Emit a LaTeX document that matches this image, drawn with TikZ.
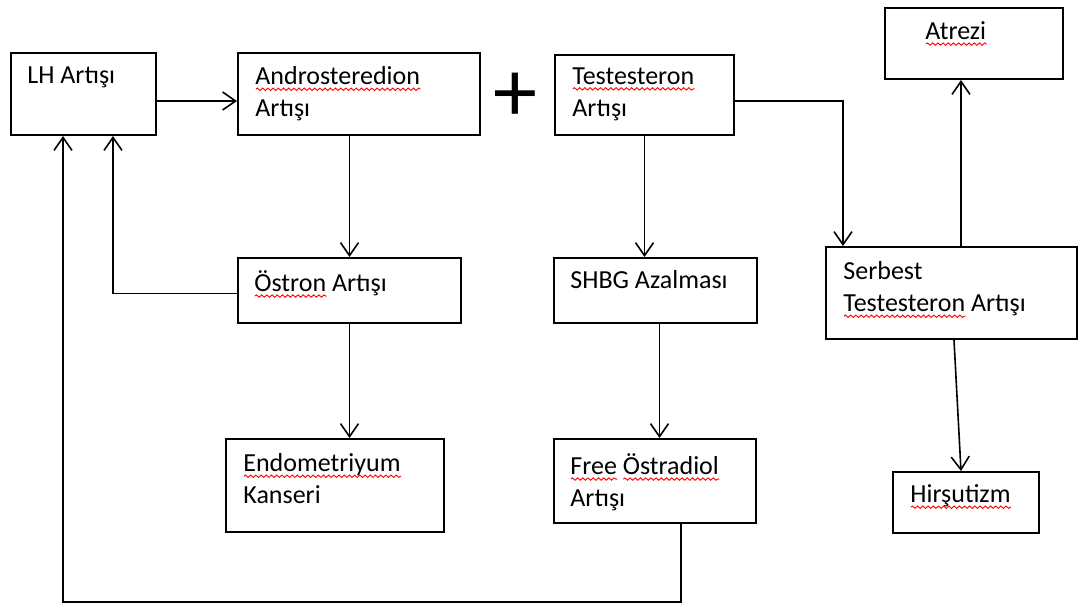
\documentclass[tikz,border=0pt]{standalone}
\usepackage{fontspec}
\setmainfont{Carlito}
\usetikzlibrary{arrows.meta,calc,decorations.pathmorphing}
\newlength\spellwd
\newcommand\spellmark[1]{\settowidth\spellwd{#1}\rlap{\tikz[baseline=0pt,x=1pt,y=1pt]\draw[red,line width=0.45pt,decorate,decoration={snake,amplitude=0.6pt,segment length=2.6pt}] (0,-2.4) -- (\spellwd,-2.4);}#1}

\begin{document}
\begin{tikzpicture}[x=0.5pt, y=-0.5pt,
    blk/.style={draw, line width=1pt, inner sep=0pt, anchor=north west},
    lbl/.style={anchor=north west, inner sep=0pt, align=left, font=\fontsize{13}{16}\selectfont},
    arr/.style={-{Straight Barb[length=6.5pt,width=9pt]}, line width=0.8pt}]
  \useasboundingbox (0,0) rectangle (1078,606);
  % boxes
  \foreach \n/\x/\y/\w/\h in {lh/10/52/145/82, andro/237/52/242/82, test/554/54/179/80,
      atrezi/884/7/178/71, oestron/237/257/223/65, shbg/553/257/203/65,
      serbest/825/246/251/92, endo/225/438/218/93, free/553/438/202/84, hirs/892/471/146/61}{
    \node[blk, minimum width=\w*0.5pt, minimum height=\h*0.5pt] (\n) at (\x,\y) {};
  }
  % texts
  \node[lbl] (lh-t) at (27,66) {LH Artışı};
  \node[lbl] (andro-t) at (255,66) {\spellmark{Androsteredion}\\Artışı};
  \node[lbl] (test-t) at (572,67) {\spellmark{Testesteron}\\Artışı};
  \node[lbl] (atrezi-t) at (925,21) {\spellmark{Atrezi}};
  \node[lbl] (oestron-t) at (254,270) {\spellmark{Östron} Artışı};
  \node[lbl] (shbg-t) at (570,270) {SHBG Azalması};
  \node[lbl] (serbest-t) at (843,261) {Serbest\\\spellmark{Testesteron} Artışı};
  \node[lbl] (endo-t) at (243,453) {\spellmark{Endometriyum}\\Kanseri};
  \node[lbl] (free-t) at (570,453) {\spellmark{Free} \spellmark{Östradiol}\\Artışı};
  \node[lbl] (hirs-t) at (910,484) {\spellmark{Hirşutizm}};
  \node[inner sep=0pt, font=\fontsize{44}{44}\selectfont] (plus) at (515,97) {+};

  % connectors
  \draw[arr] ([yshift=-3.5pt]lh.east) -- ([yshift=-3.5pt]andro.west);
  \draw[arr] (andro.south -| oestron.north) -- (oestron.north);
  \draw[arr] (oestron.south) -- (endo.north -| oestron.south);
  \draw[arr] ([yshift=-1.5pt]oestron.west) -| ([xshift=14.75pt]lh.south);
  \draw[arr] (test.south) -- (test.south |- shbg.north);
  \draw[arr] ([xshift=2pt]shbg.south) -- ([xshift=2pt]shbg.south |- free.north);
  \draw[arr] ([xshift=13pt]free.south) -- ++(0,78) -| ([xshift=-10.25pt]lh.south);
  \draw[arr] ([yshift=-3pt]test.east) -| ([xshift=9pt]serbest.north west);
  \draw[arr] ([xshift=4.75pt]serbest.north) -- ([xshift=4.75pt]serbest.north |- atrezi.south);
  \draw[arr] ([xshift=1.25pt]serbest.south) -- ([xshift=-2.5pt]hirs.north);
\end{tikzpicture}
\end{document}
